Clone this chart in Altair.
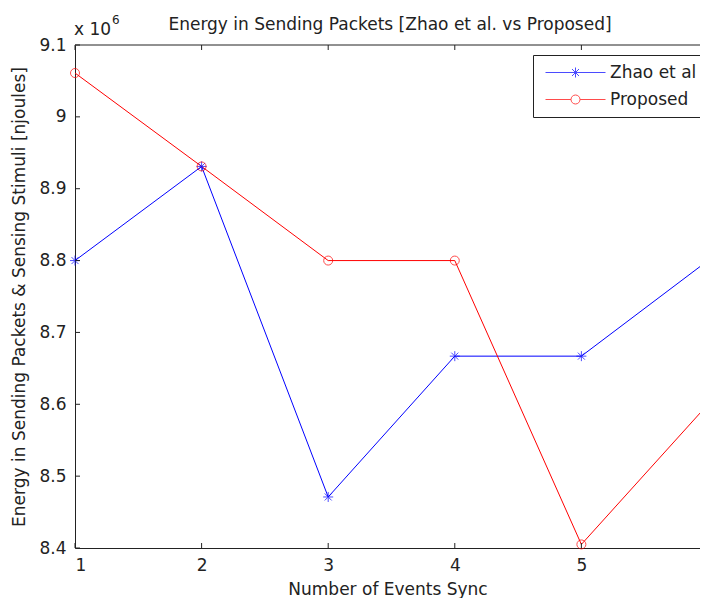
import altair as alt
import pandas as pd

# ---- data ----
events = [1, 2, 3, 4, 5, 6]
zhao = [8.800e6, 8.931e6, 8.471e6, 8.667e6, 8.667e6, 8.800e6]
proposed = [9.061e6, 8.931e6, 8.800e6, 8.800e6, 8.405e6, 8.600e6]
series_names = ["Zhao et al", "Proposed"]
series_colors = ["#0000ff", "#ff0000"]
x_ticks = [1, 2, 3, 4, 5, 6]
y_ticks = [8.4e6, 8.5e6, 8.6e6, 8.7e6, 8.8e6, 8.9e6, 9.0e6, 9.1e6]
title_text = ["Energy in Sending Packets [Zhao et al. vs Proposed]"]
x_title = "Number of Events Sync"
y_title = "Energy in Sending Packets & Sensing Stimuli [njoules]"
exp_base = ["x 10"]
exp_power = ["6"]

FONT = "DejaVu Sans"
FS = 17
INK = "#222222"
W, H = 625, 503           # the reference plot runs past the right edge
X_MAX = 5.937              # visible end of the x range in the reference

df = pd.DataFrame({
    "event": events * 2,
    "energy": zhao + proposed,
    "series": [series_names[0]] * len(events) + [series_names[1]] * len(events),
})
xt = pd.DataFrame({"xt": x_ticks})
yt = pd.DataFrame({"yt": y_ticks})

xscale = alt.Scale(domain=[1, X_MAX], nice=False, zero=False)
yscale = alt.Scale(domain=[8.4e6, 9.1e6], nice=False, zero=False)

x_axis = alt.Axis(values=x_ticks, title=x_title, grid=False,
                  ticks=False, tickSize=0, domain=True, domainColor=INK,
                  labelPadding=9, titlePadding=8,
                  labelFontSize=FS, titleFontSize=FS)
y_axis = alt.Axis(values=y_ticks, title=y_title, grid=False,
                  ticks=False, tickSize=0, domain=True, domainColor=INK,
                  labelPadding=9, titlePadding=10,
                  labelExpr="format(datum.value/1e6, '.2~r')",
                  labelFontSize=FS, titleFontSize=FS)


def X(field):
    return alt.X(field, scale=xscale, axis=x_axis)


def Y(field):
    return alt.Y(field, scale=yscale, axis=y_axis)


ASTERISK = "M0,-1L0,1M-1,0L1,0M-0.7,-0.7L0.7,0.7M-0.7,0.7L0.7,-0.7"
# legend symbols (unit = sqrt(symbolSize)/2 = 5px): line segment + marker
LEG_ZHAO = "M-1,0L11,0M5,-1L5,1M4.3,-0.7L5.7,0.7M4.3,0.7L5.7,-0.7"
LEG_PROP = ("M-1,0L4.1,0M5.9,0L11,0M4.1,0A0.9,0.9 0 1,0 5.9,0"
            "A0.9,0.9 0 1,0 4.1,0")

base = alt.Chart(df)

line_z = base.transform_filter(alt.datum.series == series_names[0]).mark_line(
    color=series_colors[0], strokeWidth=1).encode(x=X("event:Q"), y=Y("energy:Q"))
line_p = base.transform_filter(alt.datum.series == series_names[1]).mark_line(
    color=series_colors[1], strokeWidth=1).encode(x=X("event:Q"), y=Y("energy:Q"))
pt_z = base.transform_filter(alt.datum.series == series_names[0]).mark_point(
    shape=ASTERISK, size=100, color=series_colors[0], filled=False,
    strokeWidth=1).encode(x=X("event:Q"), y=Y("energy:Q"))
pt_p = base.transform_filter(alt.datum.series == series_names[1]).mark_point(
    shape="circle", size=81, color=series_colors[1], filled=False,
    strokeWidth=1).encode(x=X("event:Q"), y=Y("energy:Q"))

leg = alt.Legend(title=None, orient="none", legendX=458, legendY=10,
                 symbolSize=100, symbolStrokeWidth=1,
                 labelFontSize=FS, labelFont=FONT, labelColor=INK,
                 labelOffset=51, padding=9, rowPadding=9,
                 strokeColor=INK, fillColor="white")
legend_layer = base.transform_filter("false").mark_point(
    filled=False, strokeWidth=1).encode(
    x=X("event:Q"), y=Y("energy:Q"),
    color=alt.Color("series:N",
                    scale=alt.Scale(domain=series_names, range=series_colors),
                    legend=leg),
    shape=alt.Shape("series:N",
                    scale=alt.Scale(domain=series_names,
                                    range=[LEG_ZHAO, LEG_PROP]),
                    legend=leg),
)

t_bottom = alt.Chart(xt).mark_rule(color=INK, strokeWidth=1).encode(
    x=X("xt:Q"), y=alt.value(H), y2=alt.value(H - 5))
t_top = alt.Chart(xt).mark_rule(color=INK, strokeWidth=1).encode(
    x=X("xt:Q"), y=alt.value(0), y2=alt.value(5))
t_left = alt.Chart(yt).mark_rule(color=INK, strokeWidth=1).encode(
    y=Y("yt:Q"), x=alt.value(0), x2=alt.value(5))
border_top = alt.Chart(pd.DataFrame({"k": [0]})).mark_rule(
    color=INK, strokeWidth=1).encode(
    x=alt.value(0), x2=alt.value(W), y=alt.value(0))

title_mark = alt.Chart(pd.DataFrame({"t": title_text})).mark_text(
    font=FONT, fontSize=FS, align="center", baseline="alphabetic",
    color=INK).encode(text="t:N", x=alt.value(315), y=alt.value(-15))
exp1 = alt.Chart(pd.DataFrame({"t": exp_base})).mark_text(
    font=FONT, fontSize=FS, align="left", baseline="alphabetic",
    color=INK).encode(text="t:N", x=alt.value(-1), y=alt.value(-10))
exp2 = alt.Chart(pd.DataFrame({"t": exp_power})).mark_text(
    font=FONT, fontSize=12, align="left", baseline="alphabetic",
    color=INK).encode(text="t:N", x=alt.value(37), y=alt.value(-21))

chart = alt.layer(
    line_z, line_p, pt_z, pt_p, legend_layer,
    t_bottom, t_top, t_left, border_top, title_mark, exp1, exp2,
).properties(
    width=W, height=H,
    padding={"left": 67, "top": 37, "right": 0, "bottom": 50},
    autosize=alt.AutoSizeParams(type="none"),
    background="white",
).configure_view(
    stroke=None
).configure_axis(
    labelFont=FONT, titleFont=FONT, labelColor=INK, titleColor=INK,
    titleFontWeight="normal"
)

chart.save("out.html", embed_options={"renderer": "svg", "actions": False})
